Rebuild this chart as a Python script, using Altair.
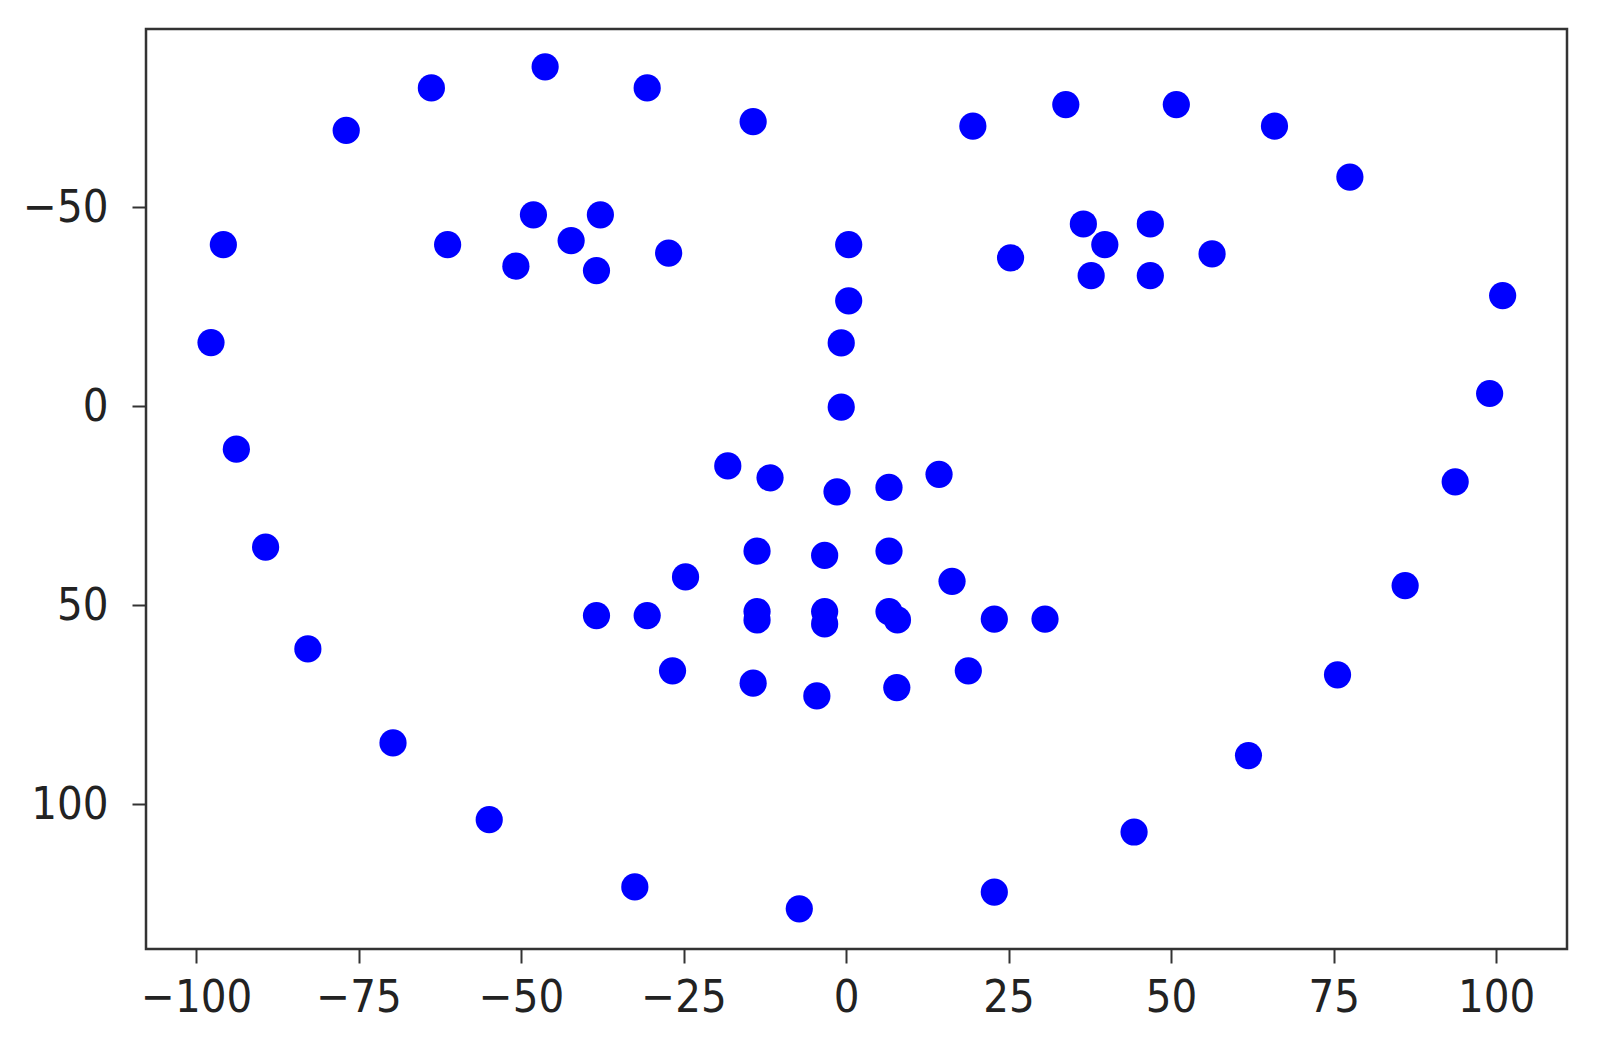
import altair as alt
import pandas as pd

# Landmark coordinates (y axis is inverted)
x_values = [
    -95.8, -97.7, -93.8, -89.3, -82.8, -69.7, -54.9, -32.5, -7.2, 22.8, 44.3, 61.9, 75.6, 86.0, 93.7, 99.0, 101.0,
    -76.9, -63.8, -46.3, -30.6, -14.3, 19.5, 33.8, 50.8, 65.9, 77.5,
    0.4, 0.4, -0.75, -0.75, -18.2, -11.7, -1.4, 6.6, 14.3,
    -61.3, -48.1, -37.8, -27.3, -38.4, -50.8,
    25.3, 36.5, 46.8, 56.3, 46.8, 37.7,
    -38.4, -24.7, -13.7, -3.3, 6.6, 16.3, 30.6, 18.8, 7.8, -4.5, -14.3, -26.7,
    -30.6, -13.7, -3.3, 6.6, 22.8, 7.9, -3.3, -13.7,
    -42.3, 39.8,
]
y_values = [
    -40.6, -16.0, 10.8, 35.4, 61.0, 84.6, 103.9, 120.8, 126.3, 122.1, 107.0, 87.8, 67.5, 45.1, 19.0, -3.2, -27.8,
    -69.3, -80.0, -85.3, -80.0, -71.5, -70.4, -75.8, -75.8, -70.4, -57.6,
    -40.6, -26.5, -15.9, 0.2, 15.0, 18.0, 21.5, 20.4, 17.1,
    -40.6, -48.1, -48.1, -38.5, -34.1, -35.2,
    -37.3, -45.8, -45.8, -38.3, -32.8, -32.8,
    52.6, 42.9, 36.4, 37.5, 36.4, 44.0, 53.5, 66.5, 70.7, 72.8, 69.6, 66.5,
    52.6, 51.6, 51.6, 51.6, 53.5, 53.7, 54.7, 53.7,
    -41.6, -40.6,
]
x_ticks = [-100, -75, -50, -25, 0, 25, 50, 75, 100]
y_ticks = [-50, 0, 50, 100]

df = pd.DataFrame({"x": x_values, "y": y_values})

font = "DejaVu Sans Condensed, DejaVu Sans"

chart = (
    alt.Chart(df)
    .mark_circle(size=740, color="#0000ff", opacity=1)
    .encode(
        x=alt.X(
            "x:Q",
            scale=alt.Scale(domain=[-107.7, 110.9], nice=False, zero=False),
            axis=alt.Axis(
                values=x_ticks, title=None, grid=False, domain=False,
                tickSize=14, tickWidth=2, tickColor="#333333",
                labelFontSize=45, labelFont=font, labelColor="#222222",
                labelPadding=12, labelFlush=False,
            ),
        ),
        y=alt.Y(
            "y:Q",
            scale=alt.Scale(domain=[-94.8, 136.4], nice=False, zero=False, reverse=True),
            axis=alt.Axis(
                values=y_ticks, title=None, grid=False, domain=False,
                tickSize=14, tickWidth=2, tickColor="#333333",
                labelFontSize=45, labelFont=font, labelColor="#222222",
                labelPadding=24, labelFlush=False,
            ),
        ),
    )
    .properties(
        width=1421,
        height=920,
        background="white",
        autosize=alt.AutoSizeParams(type="none"),
        padding={"left": 138, "top": 21, "right": 20, "bottom": 80},
    )
    .configure_view(stroke="#333333", strokeWidth=2.5)
)

chart.save("out.html", embed_options={"renderer": "svg", "actions": False})
